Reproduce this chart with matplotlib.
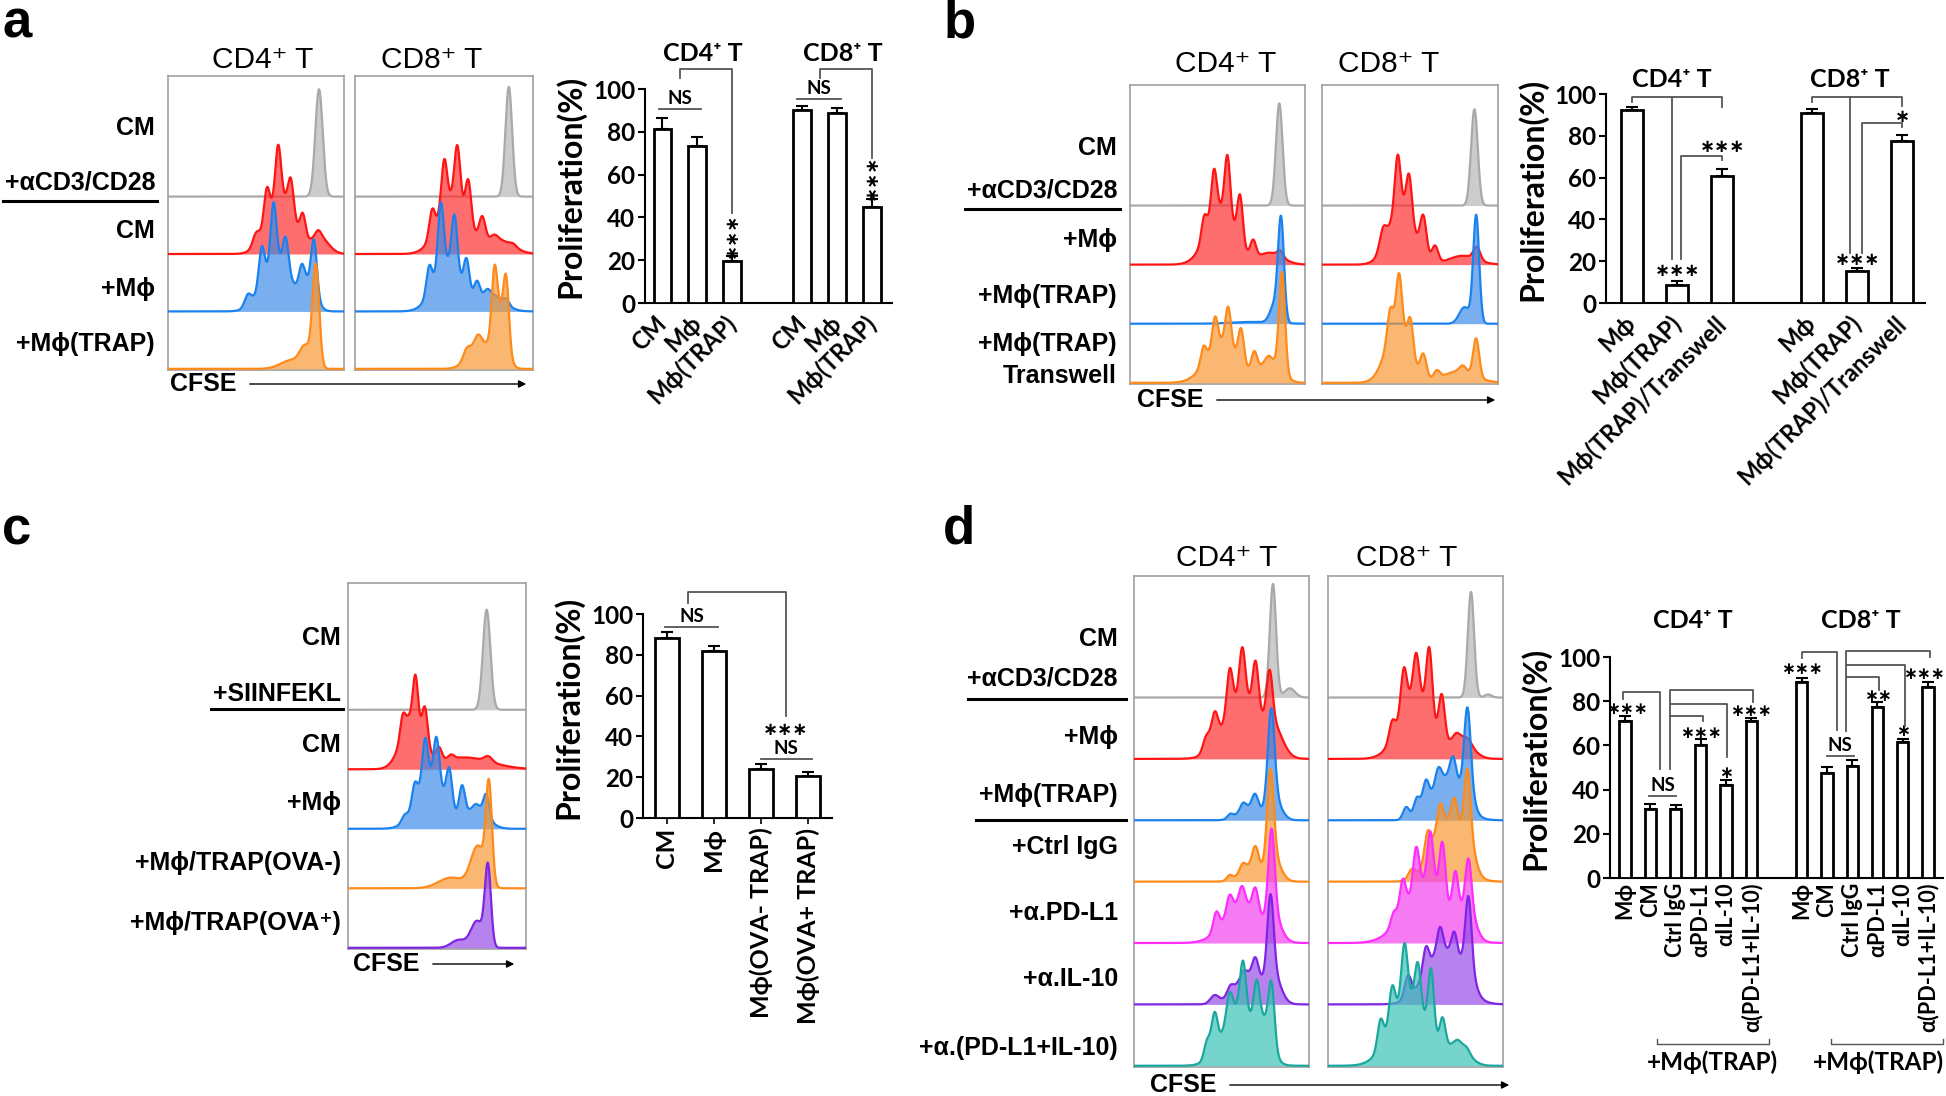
import numpy as np
import matplotlib
matplotlib.use('Agg')
import matplotlib.pyplot as plt
from matplotlib.lines import Line2D
from matplotlib.patches import FancyArrowPatch

W, H = 1946, 1096
ARIAL = ['Liberation Sans', 'DejaVu Sans']
plt.rcParams['font.family'] = ['Lato', 'DejaVu Sans']
plt.rcParams['font.weight'] = 'bold'
plt.rcParams['axes.linewidth'] = 1.5

# ---------------- bar data (proliferation %) ----------------
a_labels = ['CM', 'Mϕ', 'Mϕ(TRAP)']
a_cd4 = [81.5, 73.2, 19.8]
a_cd4_err = [5.0, 4.2, 2.1]
a_cd8 = [90.0, 88.6, 44.8]
a_cd8_err = [2.1, 2.7, 3.6]

b_labels = ['Mϕ', 'Mϕ(TRAP)', 'Mϕ(TRAP)/Transwell']
b_cd4 = [92.3, 8.8, 60.7]
b_cd4_err = [1.3, 1.6, 3.2]
b_cd8 = [91.0, 15.3, 77.3]
b_cd8_err = [1.7, 1.6, 3.1]

c_labels = ['CM', 'Mϕ', 'Mϕ(OVA- TRAP)', 'Mϕ(OVA+ TRAP)']
c_vals = [88.4, 81.9, 24.1, 20.4]
c_err = [3.0, 2.6, 2.3, 2.1]

d_labels = ['Mϕ', 'CM', 'Ctrl IgG', 'αPD-L1', 'αIL-10', 'α(PD-L1+IL-10)']
d_cd4 = [71.2, 31.2, 31.2, 60.4, 42.1, 71.0]
d_cd4_err = [2.0, 2.3, 1.8, 2.3, 2.2, 1.6]
d_cd8 = [88.6, 47.4, 50.7, 77.3, 61.5, 86.3]
d_cd8_err = [1.8, 3.0, 2.7, 2.5, 1.2, 2.4]

# ---------------- CFSE histogram peaks: (position, height, width) ----------------
# position = fraction of CFSE axis, height in row units
A4_GRAY = [(0.858, 1.87, 0.021)]
A4_RED = [(0.64, 1.0, 0.075), (0.86, 0.3, 0.05), (0.50, 0.2, 0.019), (0.561, 0.58, 0.016),
          (0.626, 0.92, 0.016), (0.698, 0.58, 0.016), (0.766, 0.42, 0.016), (0.854, 0.1, 0.016)]
A4_BLUE = [(0.62, 0.9, 0.08), (0.80, 0.45, 0.04), (0.454, 0.2, 0.019), (0.532, 0.64, 0.016),
           (0.600, 1.03, 0.016), (0.669, 0.55, 0.016), (0.760, 0.36, 0.016), (0.830, 0.88, 0.016)]
A4_ORANGE = [(0.70, 0.15, 0.06), (0.78, 0.35, 0.03), (0.84, 1.78, 0.019)]

A8_GRAY = [(0.864, 1.91, 0.019)]
A8_RED = [(0.55, 1.0, 0.08), (0.80, 0.25, 0.08), (0.433, 0.44, 0.016), (0.501, 0.82, 0.016),
          (0.575, 0.94, 0.016), (0.637, 0.71, 0.016), (0.715, 0.40, 0.017), (0.783, 0.08, 0.019),
          (0.889, 0.05, 0.019)]
A8_BLUE = [(0.52, 0.85, 0.075), (0.76, 0.3, 0.07), (0.417, 0.47, 0.016), (0.482, 1.15, 0.016),
           (0.559, 0.94, 0.016), (0.627, 0.57, 0.016), (0.685, 0.29, 0.016), (0.744, 0.09, 0.016),
           (0.85, 0.09, 0.016)]
A8_ORANGE = [(0.70, 0.45, 0.06), (0.815, 0.95, 0.035), (0.627, 0.15, 0.019), (0.691, 0.15, 0.019),
             (0.783, 1.0, 0.015), (0.85, 1.03, 0.015)]

B4_GRAY = [(0.853, 1.73, 0.019)]
B4_RED = [(0.52, 0.95, 0.08), (0.80, 0.2, 0.07), (0.424, 0.37, 0.016), (0.48, 0.78, 0.016),
          (0.557, 1.0, 0.016), (0.629, 0.8, 0.016), (0.704, 0.28, 0.016), (0.859, 0.1, 0.016)]
B4_BLUE = [(0.70, 0.03, 0.12), (0.825, 0.3, 0.025), (0.863, 1.72, 0.017)]
B4_ORANGE = [(0.53, 0.7, 0.09), (0.80, 0.38, 0.06), (0.42, 0.29, 0.016), (0.486, 0.5, 0.016),
             (0.561, 0.63, 0.016), (0.635, 0.56, 0.016), (0.71, 0.32, 0.016), (0.792, 0.07, 0.016),
             (0.869, 1.68, 0.017)]

B8_GRAY = [(0.866, 1.63, 0.019)]
B8_RED = [(0.45, 1.0, 0.07), (0.80, 0.15, 0.08), (0.346, 0.3, 0.019), (0.43, 0.9, 0.016),
          (0.495, 0.72, 0.016), (0.576, 0.64, 0.018), (0.642, 0.28, 0.018), (0.88, 0.21, 0.019)]
B8_BLUE = [(0.81, 0.28, 0.03), (0.876, 1.82, 0.017)]
B8_ORANGE = [(0.43, 1.0, 0.065), (0.78, 0.2, 0.09), (0.387, 0.45, 0.016), (0.438, 0.86, 0.016),
             (0.503, 0.56, 0.016), (0.576, 0.4, 0.018), (0.652, 0.14, 0.018), (0.80, 0.1, 0.018),
             (0.876, 0.64, 0.017)]

C_GRAY = [(0.779, 1.68, 0.021)]
C_RED = [(0.36, 0.85, 0.06), (0.65, 0.2, 0.15), (0.307, 0.33, 0.014), (0.336, 0.05, 0.014),
         (0.379, 0.74, 0.014), (0.433, 0.57, 0.015), (0.511, 0.21, 0.016), (0.579, 0.07, 0.016),
         (0.788, 0.09, 0.022)]
C_BLUE = [(0.47, 0.85, 0.08), (0.72, 0.35, 0.06), (0.317, 0.1, 0.016), (0.375, 0.36, 0.016),
          (0.433, 0.76, 0.016), (0.497, 0.74, 0.016), (0.569, 0.62, 0.016), (0.641, 0.5, 0.016),
          (0.72, 0.06, 0.016), (0.777, 0.36, 0.016)]
C_ORANGE = [(0.58, 0.18, 0.07), (0.73, 0.7, 0.04), (0.792, 1.62, 0.017)]
C_PURPLE = [(0.62, 0.13, 0.04), (0.725, 0.45, 0.035), (0.786, 1.33, 0.017)]

D4_GRAY = [(0.794, 1.85, 0.018), (0.89, 0.15, 0.03)]
D4_RED = [(0.62, 1.0, 0.1), (0.80, 0.4, 0.05), (0.413, 0.25, 0.019), (0.461, 0.48, 0.019),
          (0.547, 0.71, 0.017), (0.619, 0.82, 0.017), (0.695, 0.8, 0.017), (0.775, 0.8, 0.017)]
D4_BLUE = [(0.66, 0.2, 0.06), (0.80, 0.35, 0.04), (0.55, 0.07, 0.016), (0.623, 0.12, 0.017),
           (0.692, 0.25, 0.018), (0.784, 1.48, 0.019)]
D4_ORANGE = [(0.67, 0.25, 0.06), (0.80, 0.35, 0.04), (0.546, 0.08, 0.016), (0.621, 0.12, 0.017),
             (0.694, 0.34, 0.018), (0.78, 1.48, 0.019)]
D4_MAGENTA = [(0.62, 0.65, 0.1), (0.80, 0.35, 0.04), (0.47, 0.3, 0.017), (0.546, 0.29, 0.017),
              (0.617, 0.28, 0.017), (0.694, 0.4, 0.017), (0.786, 1.37, 0.018)]
D4_PURPLE = [(0.66, 0.5, 0.08), (0.80, 0.4, 0.04), (0.46, 0.13, 0.024), (0.55, 0.12, 0.017),
             (0.627, 0.09, 0.017), (0.694, 0.3, 0.017), (0.78, 1.28, 0.018)]
D4_TEAL = [(0.60, 0.95, 0.09), (0.75, 0.5, 0.04), (0.418, 0.29, 0.017), (0.46, 0.58, 0.017),
           (0.546, 0.4, 0.017), (0.623, 0.79, 0.017), (0.701, 0.66, 0.017), (0.786, 0.93, 0.017)]

D8_GRAY = [(0.817, 1.72, 0.018), (0.915, 0.05, 0.02)]
D8_RED = [(0.50, 1.05, 0.09), (0.76, 0.35, 0.06), (0.366, 0.28, 0.017), (0.433, 0.69, 0.017),
          (0.504, 0.68, 0.017), (0.579, 1.1, 0.017), (0.65, 0.73, 0.017), (0.732, 0.07, 0.017),
          (0.803, 0.05, 0.017)]
D8_BLUE = [(0.68, 0.7, 0.085), (0.80, 0.4, 0.03), (0.447, 0.2, 0.018), (0.508, 0.28, 0.018),
           (0.559, 0.4, 0.018), (0.63, 0.27, 0.018), (0.715, 0.39, 0.018), (0.797, 1.17, 0.018)]
D8_ORANGE = [(0.68, 1.0, 0.085), (0.80, 0.5, 0.035), (0.478, 0.15, 0.019), (0.569, 0.4, 0.017),
             (0.64, 0.37, 0.017), (0.722, 0.44, 0.017), (0.797, 0.95, 0.017)]
D8_MAGENTA = [(0.56, 1.0, 0.12), (0.80, 0.5, 0.04), (0.376, 0.2, 0.017), (0.427, 0.5, 0.017),
              (0.504, 0.67, 0.017), (0.585, 0.84, 0.017), (0.654, 0.91, 0.017), (0.728, 0.7, 0.017),
              (0.803, 0.75, 0.017)]
D8_PURPLE = [(0.66, 0.9, 0.1), (0.80, 0.4, 0.035), (0.457, 0.36, 0.019), (0.559, 0.4, 0.017),
             (0.64, 0.38, 0.017), (0.722, 0.41, 0.017), (0.803, 1.04, 0.017)]
D8_TEAL = [(0.46, 1.15, 0.1), (0.74, 0.35, 0.06), (0.30, 0.44, 0.017), (0.366, 0.56, 0.017),
           (0.437, 0.88, 0.017), (0.514, 0.69, 0.017), (0.589, 1.07, 0.017), (0.654, 0.49, 0.017),
           (0.742, 0.05, 0.017), (0.793, 0.06, 0.017)]

PALETTE = {
    'gray': ('#a9a9a9', '#b4b4b4'),
    'red': ('#ff1414', '#ff2a2a'),
    'blue': ('#1a82ee', '#3a8ae8'),
    'orange': ('#ff8a1a', '#f8962e'),
    'magenta': ('#ff2cff', '#f23cee'),
    'purple': ('#8024e6', '#9448e6'),
    'teal': ('#1aa89e', '#34c2b6'),
}

fig = plt.figure(figsize=(W / 100, H / 100), dpi=100)


def fx(x):
    return x / W


def fy(y):
    return 1 - y / H


def add_ax(x0, y0, x1, y1):
    return fig.add_axes([fx(x0), fy(y1), (x1 - x0) / W, (y1 - y0) / H])


def ftext(x, y, s, **kw):
    fig.text(fx(x), fy(y), s, **kw)


def uline(x0, x1, y):
    fig.add_artist(Line2D([fx(x0), fx(x1)], [fy(y), fy(y)], color='black', lw=2.2))


def cfse(xt, x0, x1, y):
    ftext(xt, y, 'CFSE', family=ARIAL, fontsize=18, ha='left', va='center')
    fig.add_artist(FancyArrowPatch((fx(x0), fy(y)), (fx(x1), fy(y)), transform=fig.transFigure,
                                   arrowstyle='-|>', mutation_scale=11, lw=1.0, color='black'))


def profile(peaks, xs):
    y = np.zeros_like(xs)
    for c, h, w in peaks:
        y += h * np.exp(-0.5 * ((xs - c) / w) ** 2)
    return y


def hist_box(box, curves, colors, top):
    ax = add_ax(*box)
    xs = np.linspace(0, 1, 800)
    n = len(curves)
    for i, (peaks, cname) in enumerate(zip(curves, colors)):
        base = n - 1 - i
        y = base + profile(peaks, xs)
        lc, fc = PALETTE[cname]
        ax.fill_between(xs, base, y, color=fc, alpha=0.68, lw=0, zorder=2 * i + 1)
        ax.plot(xs, y, color=lc, lw=1.6, zorder=2 * i + 2)
    ax.set_xlim(0, 1)
    ax.set_ylim(-0.02, top)
    ax.set_xticks([])
    ax.set_yticks([])
    for s in ax.spines.values():
        s.set_color('#a0a0a0')
        s.set_linewidth(1.2)
    return ax


def row_labels(xr, items):
    for y, s in items:
        ftext(xr, y, s, family=ARIAL, fontsize=18, ha='right', va='center')


def bar_panel(x0, x1, y100, y0, pos, vals, errs, xlim, width, labels, rot, tfs):
    ax = add_ax(x0, y100, x1, y0)
    ax.bar(pos, vals, width, color='white', edgecolor='black', linewidth=2, zorder=3)
    ax.errorbar(pos, vals, yerr=[np.zeros(len(errs)), errs], fmt='none', ecolor='black',
                elinewidth=1.5, capsize=4, capthick=1.5, zorder=2)
    ax.set_xlim(*xlim)
    ax.set_ylim(0, 100)
    ax.set_yticks(range(0, 101, 20))
    ax.tick_params(axis='y', labelsize=17.5, width=1.5, length=5, pad=2)
    ax.set_xticks(pos)
    if rot == 45:
        ax.set_xticklabels(labels, rotation=45, ha='right', va='center', rotation_mode='anchor',
                           fontsize=tfs)
        ax.tick_params(axis='x', length=0, pad=12)
    else:
        ax.set_xticklabels(labels, rotation=90, ha='center', va='top', fontsize=tfs)
        ax.tick_params(axis='x', length=4, width=1.2, pad=3)
    ax.spines[['top', 'right']].set_visible(False)
    return ax


def br(ax, xs, ys):
    ax.plot(xs, ys, color='#555555', lw=1.3, clip_on=False, zorder=4)


def stars(ax, x, y, s, rot=0, fs=13):
    ax.text(x, y, s, ha='center', va='center', fontsize=fs, family=['DejaVu Sans'],
            fontweight='bold', rotation=rot, clip_on=False)


def ns(ax, x0, x1, y):
    ax.plot([x0, x1], [y, y], color='#555555', lw=1.3, clip_on=False)
    ax.text((x0 + x1) / 2, y + 1.0, 'NS', ha='center', va='bottom', fontsize=13.5)


def ylab(x, y):
    ftext(x, y, 'Proliferation(%)', fontsize=23, rotation=90, ha='center', va='center')


# ================= panel labels =================
for x, y, s in [(2, 38, 'a'), (944, 38, 'b'), (2, 544, 'c'), (943, 543, 'd')]:
    ftext(x, y, s, family=ARIAL, fontsize=38, ha='left', va='baseline')

# ================= panel a =================
cols4 = ['gray', 'red', 'blue', 'orange']
hist_box((168, 76, 344, 370), [A4_GRAY, A4_RED, A4_BLUE, A4_ORANGE], cols4, 5.1)
hist_box((355, 76, 533, 370), [A8_GRAY, A8_RED, A8_BLUE, A8_ORANGE], cols4, 5.1)
ftext(263, 60, 'CD4⁺ T', family=ARIAL, fontweight='normal', fontsize=21.5, ha='center', va='center')
ftext(432, 60, 'CD8⁺ T', family=ARIAL, fontweight='normal', fontsize=21.5, ha='center', va='center')
row_labels(155, [(128, 'CM'), (182, '+αCD3/CD28'), (231, 'CM'), (289, '+Mϕ'), (344, '+Mϕ(TRAP)')])
uline(3, 157, 201)
cfse(170, 247, 529, 384)

ax = bar_panel(645, 892, 89, 303, [0, 1, 2, 4, 5, 6], a_cd4 + a_cd8, a_cd4_err + a_cd8_err,
               (-0.5, 6.57), 0.51, a_labels + a_labels, 45, 17)
br(ax, [0.5, 0.5, 2, 2], [105, 109.4, 109.4, 41.9])
ns(ax, -0.1, 1.1, 90.6)
stars(ax, 2, 31.5, '∗∗∗', 90)
br(ax, [4.5, 4.5, 6, 6], [105, 109.4, 109.4, 67.7])
ns(ax, 3.85, 5.1, 95.3)
stars(ax, 6, 58.5, '∗∗∗', 90)
ax.text(1.15, 116.8, 'CD4⁺ T', ha='center', va='center', fontsize=18, clip_on=False)
ax.text(5.15, 116.8, 'CD8⁺ T', ha='center', va='center', fontsize=18, clip_on=False)
ylab(570, 186)

# ================= panel b =================
hist_box((1130, 85, 1305, 384), [B4_GRAY, B4_RED, B4_BLUE, B4_ORANGE], cols4, 5.04)
hist_box((1322, 85, 1498, 384), [B8_GRAY, B8_RED, B8_BLUE, B8_ORANGE], cols4, 5.04)
ftext(1226, 64, 'CD4⁺ T', family=ARIAL, fontweight='normal', fontsize=21.5, ha='center', va='center')
ftext(1389, 64, 'CD8⁺ T', family=ARIAL, fontweight='normal', fontsize=21.5, ha='center', va='center')
row_labels(1117, [(148, 'CM'), (191, '+αCD3/CD28'), (240, '+Mϕ'), (296, '+Mϕ(TRAP)'),
                  (344, '+Mϕ(TRAP)'), (376, 'Transwell')])
uline(965, 1120, 209)
cfse(1137, 1214, 1498, 400)

ax = bar_panel(1606, 1925, 94, 303, [0, 1, 2, 4, 5, 6], b_cd4 + b_cd8, b_cd4_err + b_cd8_err,
               (-0.58, 6.51), 0.5, b_labels + b_labels, 45, 17)
br(ax, [0, 0, 2, 2], [96, 98.7, 98.7, 93.6])
br(ax, [0.88, 0.88], [98.7, 21.2])
br(ax, [1.08, 1.08, 2, 2], [21.2, 70.4, 70.4, 68.4])
stars(ax, 1, 15.3, '∗∗∗')
stars(ax, 2, 74.8, '∗∗∗')
br(ax, [4, 4, 6, 6], [96, 98.7, 98.7, 94.2])
br(ax, [4.84, 4.84], [98.7, 24])
br(ax, [5.1, 5.1, 6, 6], [24, 85.9, 85.9, 84.3])
stars(ax, 5, 20.5, '∗∗∗')
stars(ax, 6, 89, '∗')
ax.text(0.89, 106.7, 'CD4⁺ T', ha='center', va='center', fontsize=18, clip_on=False)
ax.text(4.84, 106.7, 'CD8⁺ T', ha='center', va='center', fontsize=18, clip_on=False)
ylab(1532, 189)

# ================= panel c =================
hist_box((348, 583, 526, 949), [C_GRAY, C_RED, C_BLUE, C_ORANGE, C_PURPLE],
         ['gray', 'red', 'blue', 'orange', 'purple'], 6.13)
row_labels(341, [(638, 'CM'), (694, '+SIINFEKL'), (745, 'CM'), (803, '+Mϕ'),
                 (863, '+Mϕ/TRAP(OVA-)'), (923, '+Mϕ/TRAP(OVA⁺)')])
uline(211, 343, 709)
cfse(353, 430, 517, 964)

ax = bar_panel(643, 832, 614, 818, [0, 1, 2, 3], c_vals, c_err, (-0.51, 3.51), 0.5,
               c_labels, 90, 18)
ns(ax, -0.04, 1.08, 93.8)
br(ax, [0.45, 0.45, 2.53, 2.53], [105.2, 111, 111, 49.8])
stars(ax, 2.53, 43.2, '∗∗∗')
ns(ax, 1.99, 3.08, 29)
ylab(568, 707)

# ================= panel d =================
cols7 = ['gray', 'red', 'blue', 'orange', 'magenta', 'purple', 'teal']
hist_box((1134, 576, 1309, 1067),
         [D4_GRAY, D4_RED, D4_BLUE, D4_ORANGE, D4_MAGENTA, D4_PURPLE, D4_TEAL], cols7, 7.98)
hist_box((1328, 576, 1503, 1067),
         [D8_GRAY, D8_RED, D8_BLUE, D8_ORANGE, D8_MAGENTA, D8_PURPLE, D8_TEAL], cols7, 7.98)
ftext(1227, 558, 'CD4⁺ T', family=ARIAL, fontweight='normal', fontsize=21.5, ha='center', va='center')
ftext(1407, 558, 'CD8⁺ T', family=ARIAL, fontweight='normal', fontsize=21.5, ha='center', va='center')
row_labels(1118, [(639, 'CM'), (679, '+αCD3/CD28'), (737, '+Mϕ'), (795, '+Mϕ(TRAP)'),
                  (847, '+Ctrl IgG'), (913, '+α.PD-L1'), (979, '+α.IL-10'),
                  (1048, '+α.(PD-L1+IL-10)')])
uline(968, 1126, 699)
uline(976, 1126, 820)
cfse(1150, 1227, 1512, 1085)

d_pos = list(range(6)) + list(range(7, 13))
ax = bar_panel(1610, 1943, 657, 878, d_pos, d_cd4 + d_cd8, d_cd4_err + d_cd8_err,
               (-0.6, 12.6), 0.45, d_labels + d_labels, 90, 15.5)
ax.tick_params(axis='x', length=0)
# CD4 comparisons
br(ax, [-0.1, -0.1, 1.4, 1.4], [81.1, 84.1, 84.1, 49.5])
br(ax, [1.76, 1.76, 5.05, 5.05], [49.1, 84.9, 84.9, 79.5])
br(ax, [1.76, 4.03, 4.03], [78.9, 78.9, 54.8])
br(ax, [1.76, 3.08, 3.08], [73.1, 73.1, 70.9])
stars(ax, 0.05, 76.3, '∗∗∗', fs=12)
stars(ax, 3, 65.8, '∗∗∗', fs=12)
stars(ax, 4, 47.7, '∗', fs=12)
stars(ax, 5, 75.5, '∗∗∗', fs=12)
ns(ax, 0.93, 2.03, 37)
# CD8 comparisons
br(ax, [7, 7, 8.38, 8.38], [99.6, 102.2, 102.2, 67.1])
br(ax, [8.75, 8.75, 12.08, 12.08], [66.5, 102.5, 102.5, 99.9])
br(ax, [8.75, 11.08, 11.08], [96.6, 96.6, 68.6])
br(ax, [8.75, 10.05, 10.05], [90.9, 90.9, 84.9])
stars(ax, 7, 94.4, '∗∗∗', fs=12)
stars(ax, 10, 82.2, '∗∗', fs=12)
stars(ax, 11, 66.4, '∗', fs=12)
stars(ax, 11.85, 92.4, '∗∗∗', fs=12)
ns(ax, 8, 9.06, 55.1)
ax.text(2.7, 116.5, 'CD4⁺ T', ha='center', va='center', fontsize=18, clip_on=False)
ax.text(9.33, 116.5, 'CD8⁺ T', ha='center', va='center', fontsize=18, clip_on=False)
for xa, xb, xc in [(1.27, 5.71, 3.45), (8.17, 12.6, 10.04)]:
    ax.plot([xa, xa, xb, xb], [-72.7, -74.9, -74.9, -72.7], color='#555555', lw=1.0,
            clip_on=False)
    ax.text(xc, -83.5, '+Mϕ(TRAP)', ha='center', va='center', fontsize=17.5, clip_on=False)
ylab(1535, 758)

fig.savefig('out.png', dpi=100)
